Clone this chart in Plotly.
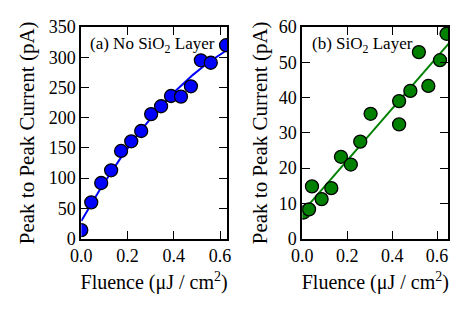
import numpy as np
import plotly.graph_objects as go

# Panel (a): no SiO2 layer
fluence_a = [0.0, 0.043, 0.086, 0.129, 0.172, 0.216, 0.259, 0.302, 0.345, 0.388, 0.431, 0.474, 0.517, 0.560, 0.626]
current_a = [14, 60, 92, 113, 145, 161, 178, 206, 219, 236, 235, 252, 295, 291, 320]

# Panel (b): SiO2 layer
fluence_b = [0.006, 0.030, 0.043, 0.086, 0.129, 0.172, 0.216, 0.258, 0.304, 0.431, 0.431, 0.481, 0.519, 0.561, 0.613, 0.642]
current_b = [7.4, 8.3, 14.8, 11.2, 14.3, 23.2, 21.0, 27.5, 35.4, 39.0, 32.4, 41.9, 52.9, 43.3, 50.6, 58.1]

xticks = [0.0, 0.2, 0.4, 0.6]
xtick_text = ["0.0", "0.2", "0.4", "0.6"]
yticks_a = [0, 50, 100, 150, 200, 250, 300, 350]
yticks_b = [0, 10, 20, 30, 40, 50, 60]

# fits derived from the data
fa = np.poly1d(np.polyfit(fluence_a, current_a, 2))
fb = np.poly1d(np.polyfit(fluence_b, current_b, 1))
xfit = np.linspace(0, 0.66, 120)

FONT = "Liberation Serif"
BLUE = "#0000ff"
GREEN = "#008000"

fig = go.Figure()
fig.add_trace(go.Scatter(x=xfit, y=fa(xfit), mode="lines", line=dict(color=BLUE, width=2),
                         xaxis="x", yaxis="y", showlegend=False, hoverinfo="skip"))
fig.add_trace(go.Scatter(x=fluence_a, y=current_a, mode="markers",
                         marker=dict(color=BLUE, size=13, line=dict(color="black", width=1.3)),
                         xaxis="x", yaxis="y", showlegend=False, cliponaxis=True))
fig.add_trace(go.Scatter(x=xfit, y=fb(xfit), mode="lines", line=dict(color=GREEN, width=2),
                         xaxis="x2", yaxis="y2", showlegend=False, hoverinfo="skip"))
fig.add_trace(go.Scatter(x=fluence_b, y=current_b, mode="markers",
                         marker=dict(color=GREEN, size=13, line=dict(color="black", width=1.3)),
                         xaxis="x2", yaxis="y2", showlegend=False, cliponaxis=True))

ax_common = dict(showgrid=False, zeroline=False, showline=True, linecolor="black", linewidth=2,
                 mirror="allticks", ticks="inside", ticklen=8, tickwidth=1.3, tickcolor="black",
                 automargin=False,
                 tickfont=dict(family=FONT, size=18, color="black"))

xtitle = dict(text="Fluence (μJ / cm<sup>2</sup>)", font=dict(family=FONT, size=20, color="black"), standoff=10)
ytitle_a = dict(text="Peak to Peak Current (pA)", font=dict(family=FONT, size=21, color="black"), standoff=8)
ytitle_b = dict(text="Peak to Peak Current (pA)", font=dict(family=FONT, size=21, color="black"), standoff=5)

fig.update_layout(
    width=459, height=303,
    margin=dict(l=0, r=0, t=0, b=0),
    paper_bgcolor="white", plot_bgcolor="white",
    font=dict(family=FONT, color="black"),
    xaxis=dict(domain=[0.1597, 0.4771], range=[0, 0.63], tickvals=xticks, ticktext=xtick_text,
               anchor="y", title=xtitle, **ax_common),
    yaxis=dict(domain=[0.239, 0.937], range=[0, 350], tickvals=yticks_a, anchor="x",
               title=ytitle_a, **ax_common),
    xaxis2=dict(domain=[0.6412, 0.9593], range=[0, 0.65], tickvals=xticks, ticktext=xtick_text,
                anchor="y2", title=xtitle, **ax_common),
    yaxis2=dict(domain=[0.239, 0.937], range=[0, 60], tickvals=yticks_b, anchor="x2",
                title=ytitle_b, **ax_common),
    annotations=[
        dict(text="(a) No SiO<sub>2</sub> Layer", xref="x domain", yref="y domain", x=0.045, y=0.975,
             xanchor="left", yanchor="top", showarrow=False, font=dict(family=FONT, size=17, color="black")),
        dict(text="(b) SiO<sub>2</sub> Layer", xref="x2 domain", yref="y2 domain", x=0.05, y=0.975,
             xanchor="left", yanchor="top", showarrow=False, font=dict(family=FONT, size=17, color="black")),
    ],
)

fig.write_html("out.html")
